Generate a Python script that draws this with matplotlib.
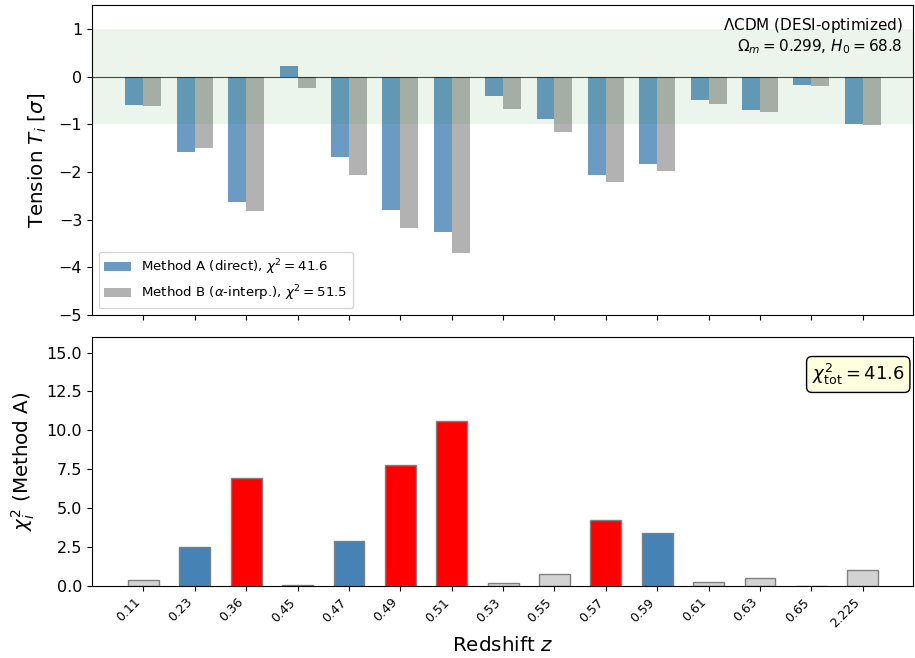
import numpy as np
import matplotlib
matplotlib.use("Agg")
import matplotlib.pyplot as plt
from matplotlib.ticker import MultipleLocator

# ---------- data ----------
redshifts = ["0.11", "0.23", "0.36", "0.45", "0.47", "0.49", "0.51", "0.53",
             "0.55", "0.57", "0.59", "0.61", "0.63", "0.65", "2.225"]
tension_a = [-0.60, -1.58, -2.63, 0.23, -1.69, -2.79, -3.26, -0.41,
             -0.88, -2.06, -1.84, -0.50, -0.71, -0.17, -1.00]
tension_b = [-0.62, -1.50, -2.81, -0.25, -2.06, -3.18, -3.69, -0.68,
             -1.16, -2.22, -1.98, -0.58, -0.74, -0.20, -1.02]
chi2_a = [0.36, 2.50, 6.94, 0.05, 2.87, 7.80, 10.63, 0.17,
          0.77, 4.24, 3.39, 0.27, 0.51, 0.03, 1.00]
chi2_tot_a = 41.6
chi2_tot_b = 51.5
omega_m = 0.299
h0 = 68.8

x = np.arange(len(redshifts))
width = 0.35

fig = plt.figure(figsize=(9.15, 6.58), dpi=100)
ax1 = fig.add_axes([0.1005, 0.5213, 0.897, 0.4711])
ax2 = fig.add_axes([0.1005, 0.1094, 0.897, 0.3784], sharex=ax1)

# ---------- top: tension per bin ----------
ax1.bar(x - width / 2, tension_a, width, color="steelblue", alpha=0.8,
        label=rf"Method A (direct), $\chi^2 = {chi2_tot_a}$")
ax1.bar(x + width / 2, tension_b, width, color="gray", alpha=0.6,
        label=rf"Method B ($\alpha$-interp.), $\chi^2 = {chi2_tot_b}$")
ax1.axhspan(-1, 1, color="green", alpha=0.08, lw=0)
ax1.axhline(0, color="k", lw=0.8, alpha=0.7)
ax1.set_ylim(-5, 1.5)
ax1.set_ylabel(r"Tension $T_i$ [$\sigma$]", fontsize=14.3, labelpad=7)
ax1.tick_params(axis="y", labelsize=11.5)
ax1.tick_params(axis="x", labelbottom=False)
ax1.legend(loc="lower left", fontsize=9.6)
ax1.text(0.988, 0.965,
         "$\\Lambda$CDM (DESI-optimized)\n"
         rf"$\Omega_m = {omega_m}$, $H_0 = {h0}$",
         transform=ax1.transAxes, ha="right", va="top", fontsize=11)

# ---------- bottom: chi2 contribution per bin ----------
colors = []
for c in chi2_a:
    if c > 4:
        colors.append("red")
    elif c > 1.05:
        colors.append("steelblue")
    else:
        colors.append("lightgray")
ax2.bar(x, chi2_a, 0.6, color=colors, edgecolor="gray")
ax2.set_ylim(0, 16)
ax2.yaxis.set_major_locator(MultipleLocator(2.5))
ax2.set_xlim(-1, len(x) - 0.03)
ax2.set_xticks(x)
ax2.set_xticklabels(redshifts, rotation=45, ha="right", fontsize=9)
ax2.tick_params(axis="y", labelsize=11.5)
ax2.set_ylabel(r"$\chi^2_i$ (Method A)", fontsize=14.3, labelpad=7)
ax2.set_xlabel(r"Redshift $z$", fontsize=14.3)
ax2.text(0.99, 0.9, rf"$\chi^2_{{\rm tot}} = {chi2_tot_a}$",
         transform=ax2.transAxes, ha="right", va="top", fontsize=13,
         bbox=dict(boxstyle="round", facecolor="lightyellow", edgecolor="black"))

plt.savefig("out.png", dpi=100)
